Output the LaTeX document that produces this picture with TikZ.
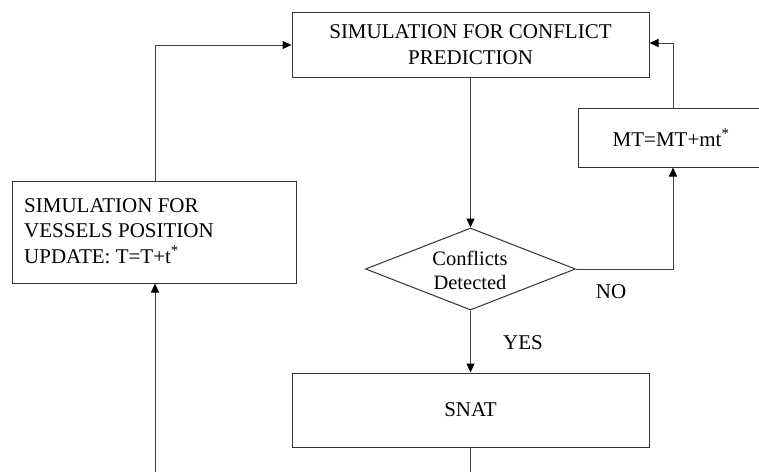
\documentclass[tikz,border=0pt]{standalone}
\usepackage{fontspec}
\setmainfont{Liberation Serif}
\usetikzlibrary{arrows.meta,shapes.geometric}
\begin{document}
\begin{tikzpicture}[x=1pt,y=-1pt,
  line/.style={draw=black!75, line width=1pt},
  arr/.style={line, -{Triangle[length=9pt,width=8pt,color=black]}},
  box/.style={draw=black!80, line width=1pt, rectangle, inner sep=0pt, font=\fontsize{21}{26}\selectfont, align=center},
  lbl/.style={font=\fontsize{21}{25.5}\selectfont, inner sep=0pt}]
\useasboundingbox (0,0) rectangle (759,471);
\clip (0,0) rectangle (759,471);
\fill[white] (0,0) rectangle (759,471);
\node[box, minimum width=357pt, minimum height=65pt] (sim) at (470.5,44.5) {SIMULATION FOR CONFLICT\\PREDICTION};
\node[box, minimum width=284pt, minimum height=102pt] (pos) at (154,232) {};
\node[lbl, anchor=west, align=left] (postext) at (24,231) {SIMULATION FOR\\VESSELS POSITION\\UPDATE: T=T+t\textsuperscript{*}};
\node[draw=black!80, line width=1pt, diamond, aspect=2.56, minimum width=210pt, minimum height=82pt, inner sep=0pt] (dec) at (470.5,269) {};
\node[font=\fontsize{20.5}{24}\selectfont, align=center, inner sep=0pt] (dectext) at (470,270) {Conflicts\\Detected};
\node[box, minimum width=190pt, minimum height=59pt] (mt) at (673,137.5) {};
\node[lbl] (mttext) at (671,138) {MT=MT+mt\textsuperscript{*}};
\node[box, minimum width=357pt, minimum height=74pt] (snat) at (470.5,410) {SNAT};
\node[lbl] (no) at (611,292) {NO};
\node[lbl] (yes) at (523,343) {YES};
\coordinate (bot1) at (470.5,475);
\coordinate (bot2) at (155,475);
\coordinate (c1) at (155,45);
\coordinate (c2) at (673,43);
\coordinate (c3) at (673,269);
\draw[arr] (sim.south) -- (dec.north);
\draw[arr] (dec.south) -- (snat.north);
\draw[line] (snat.south) -- (bot1);
\draw[arr] (bot2) -- (bot2 |- pos.south);
\draw[arr] (pos.north -| c1) -- (c1) -- (c1 -| sim.west);
\draw[arr] (dec.east) -- (c3) -- (c3 |- mt.south);
\draw[arr] (c2 |- mt.north) -- (c2) -- (c2 -| sim.east);
\end{tikzpicture}
\end{document}
